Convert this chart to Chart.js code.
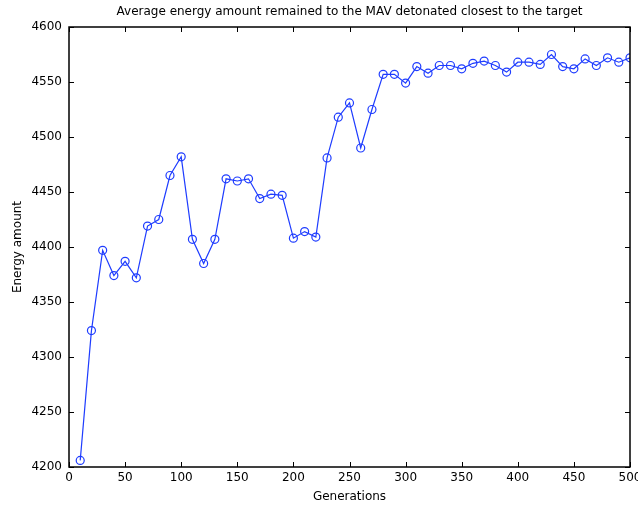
<!DOCTYPE html>
<html>
<head>
<meta charset="utf-8">
<script src="https://cdn.jsdelivr.net/npm/chart.js@4"></script>
<style>
    html, body { margin: 0; padding: 0; background: #fff; }
    #wrap { width: 638px; height: 506px; }
</style>
</head>
<body>
<div id="wrap"><canvas id="chart" width="638" height="506"></canvas></div>
<script>
const generations = [10, 20, 30, 40, 50, 60, 70, 80, 90, 100,
    110, 120, 130, 140, 150, 160, 170, 180, 190, 200,
    210, 220, 230, 240, 250, 260, 270, 280, 290, 300,
    310, 320, 330, 340, 350, 360, 370, 380, 390, 400,
    410, 420, 430, 440, 450, 460, 470, 480, 490, 500];
const energy = [4206, 4324, 4397, 4374, 4387, 4372, 4419, 4425, 4465, 4482,
    4407, 4385, 4407, 4462, 4460, 4462, 4444, 4448, 4447, 4408,
    4414, 4409, 4481, 4518, 4531, 4490, 4525, 4557, 4557, 4549,
    4564, 4558, 4565, 4565, 4562, 4567, 4569, 4565, 4559, 4568,
    4568, 4566, 4575, 4564, 4562, 4571, 4565, 4572, 4568, 4572];
const xTicks = [0, 50, 100, 150, 200, 250, 300, 350, 400, 450, 500];
const yTicks = [4200, 4250, 4300, 4350, 4400, 4450, 4500, 4550, 4600];

const titleText = 'Average energy amount remained to the MAV detonated closest to the target';
const xLabel = 'Generations';
const yLabel = 'Energy amount';

const fontFamily = '"DejaVu Sans", sans-serif';
const lineColor = 'rgb(30, 60, 255)';

// matlab style box with ticks pointing inwards
const frameTicks = {
    id: 'frameTicks',
    afterDatasetsDraw(chart) {
        const ctx = chart.ctx;
        const area = chart.chartArea;
        const xs = chart.scales.x;
        const ys = chart.scales.y;
        const len = 5;
        ctx.save();
        ctx.strokeStyle = '#000';
        ctx.lineWidth = 1;
        ctx.beginPath();
        xTicks.forEach(v => {
            const px = Math.round(xs.getPixelForValue(v)) + 0.5;
            ctx.moveTo(px, area.bottom);
            ctx.lineTo(px, area.bottom - len);
            ctx.moveTo(px, area.top);
            ctx.lineTo(px, area.top + len);
        });
        yTicks.forEach(v => {
            const py = Math.round(ys.getPixelForValue(v)) + 0.5;
            ctx.moveTo(area.left, py);
            ctx.lineTo(area.left + len, py);
            ctx.moveTo(area.right, py);
            ctx.lineTo(area.right - len, py);
        });
        ctx.stroke();
        ctx.lineWidth = 1.5;
        ctx.strokeRect(area.left, area.top, area.right - area.left, area.bottom - area.top);
        ctx.restore();
    }
};

const ctx = document.getElementById('chart').getContext('2d');
new Chart(ctx, {
    type: 'line',
    data: {
        labels: generations,
        datasets: [{
            data: generations.map((g, i) => ({ x: g, y: energy[i] })),
            borderColor: lineColor,
            borderWidth: 1.2,
            backgroundColor: 'rgba(0,0,0,0)',
            pointStyle: 'circle',
            pointRadius: 4,
            pointBorderWidth: 1.2,
            pointBorderColor: lineColor,
            pointBackgroundColor: 'rgba(0,0,0,0)',
            tension: 0,
            fill: false
        }]
    },
    options: {
        responsive: false,
        animation: false,
        layout: { padding: { left: 0, right: 8, top: 0, bottom: 0 } },
        plugins: {
            legend: { display: false },
            tooltip: { enabled: false },
            title: { display: false }
        },
        scales: {
            x: {
                type: 'linear',
                min: 0,
                max: 500,
                afterBuildTicks: scale => { scale.ticks = xTicks.map(v => ({ value: v })); },
                afterFit: scale => { scale.height = 39; scale.paddingLeft = 0; scale.paddingRight = 0; },
                grid: { display: false, drawTicks: false },
                border: { display: false },
                ticks: { color: '#000', padding: 4, maxRotation: 0, autoSkip: false,
                    callback: v => String(v),
                    font: { family: fontFamily, size: 12 } },
                title: { display: true, text: xLabel, color: '#000', padding: { top: 0, bottom: 2 },
                    font: { family: fontFamily, size: 12 } }
            },
            // top axis only carries the chart title, centred over the plot
            top: {
                type: 'linear',
                position: 'top',
                min: 0,
                max: 500,
                afterFit: scale => { scale.height = 27; scale.paddingLeft = 0; scale.paddingRight = 0; },
                grid: { display: false, drawTicks: false },
                border: { display: false },
                ticks: { display: false },
                title: { display: true, text: titleText, color: '#000', padding: { top: 5, bottom: 0 },
                    font: { family: fontFamily, size: 12 } }
            },
            y: {
                type: 'linear',
                min: 4200,
                max: 4600,
                afterBuildTicks: scale => { scale.ticks = yTicks.map(v => ({ value: v })); },
                afterFit: scale => { scale.width = 69; scale.paddingTop = 0; scale.paddingBottom = 0; },
                grid: { display: false, drawTicks: false },
                border: { display: false },
                ticks: { color: '#000', padding: 7, autoSkip: false,
                    callback: v => String(v),
                    font: { family: fontFamily, size: 12 } },
                title: { display: true, text: yLabel, color: '#000', padding: { top: 11, bottom: 0 },
                    font: { family: fontFamily, size: 12 } }
            }
        }
    },
    plugins: [frameTicks]
});
</script>
</body>
</html>
